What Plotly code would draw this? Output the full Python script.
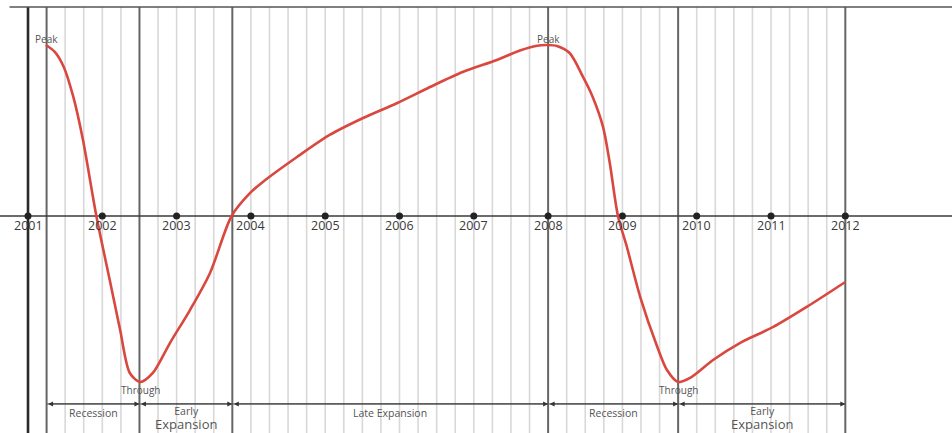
import plotly.graph_objects as go

# ---- data ----
years = [2001, 2002, 2003, 2004, 2005, 2006, 2007, 2008, 2009, 2010, 2011, 2012]
year_labels = [str(y) for y in years]

curve_x = [2001.24, 2001.36, 2001.48, 2001.61, 2001.74, 2001.92, 2002.10, 2002.24, 2002.37,
           2002.51, 2002.68, 2002.91, 2003.18, 2003.45, 2003.74, 2003.99,
           2004.16, 2004.62, 2005.06, 2005.51, 2005.97, 2006.41, 2006.85, 2007.31,
           2007.62, 2007.85, 2008.00, 2008.12, 2008.29, 2008.47, 2008.60, 2008.74,
           2008.83, 2008.94, 2009.06, 2009.24, 2009.47, 2009.60, 2009.75, 2009.91,
           2010.22, 2010.58, 2011.03, 2011.48, 2012.00]
curve_y = [100, 96.0, 87.3, 69.6, 44.4, 0, -37.4, -66.7, -91.8,
           -97.1, -91.8, -74.3, -55.0, -33.3, 0, 13.5,
           19.9, 34.5, 47.4, 57.3, 66.1, 75.4, 84.2, 91.2,
           96.8, 99.6, 100, 99.4, 95.3, 81.3, 69.6, 52.0,
           31.0, 0, -18.1, -47.4, -76.6, -90.1, -97.1, -94.7,
           -84.2, -74.3, -64.9, -53.2, -38.6]

turn_x = [2001.25, 2002.52, 2008.0, 2009.75]
turn_labels = ["Peak", "Through", "Peak", "Through"]

phase_bounds = [2001.25, 2002.5, 2003.75, 2008.0, 2009.75, 2012.0]
phase_line1 = ["Recession", "Early", "Late Expansion", "Recession", "Early"]
phase_line2 = ["", "Expansion", "", "", "Expansion"]

grid_start, grid_end, grid_step = 2001.0, 2012.0, 0.25
major_lines = [2001.0] + phase_bounds

# ---- figure ----
fig = go.Figure()

shapes = []
n = int(round((grid_end - grid_start) / grid_step))
for i in range(n + 1):
    xv = grid_start + i * grid_step
    if any(abs(xv - m) < 1e-6 for m in major_lines):
        continue
    shapes.append(dict(type="line", xref="x", yref="paper", x0=xv, x1=xv, y0=0, y1=0.984,
                       line=dict(color="#d8d8d8", width=1.6), layer="below"))
for m in major_lines:
    w = 2.6 if m == 2001.0 else 2
    c = "#2a2a2a" if m == 2001.0 else "#666666"
    shapes.append(dict(type="line", xref="x", yref="paper", x0=m, x1=m, y0=0, y1=0.984,
                       line=dict(color=c, width=w), layer="below"))
# top border line
shapes.append(dict(type="line", xref="paper", yref="paper", x0=0.01, x1=1, y0=0.984, y1=0.984,
                   line=dict(color="#555555", width=1.5), layer="below"))
# zero axis
shapes.append(dict(type="line", xref="paper", yref="y", x0=0, x1=1, y0=0, y1=0,
                   line=dict(color="#3a3a3a", width=1.6), layer="below"))
# phase arrow baseline
shapes.append(dict(type="line", xref="x", yref="y", x0=phase_bounds[0], x1=phase_bounds[-1],
                   y0=-109.9, y1=-109.9, line=dict(color="#555555", width=1), layer="below"))

fig.add_trace(go.Scatter(x=years, y=[0] * len(years), mode="markers",
                         marker=dict(color="#222222", size=7), hoverinfo="skip"))
fig.add_trace(go.Scatter(x=curve_x, y=curve_y, mode="lines",
                         line=dict(color="#d9473f", width=2.6, shape="spline", smoothing=0.8),
                         hoverinfo="skip"))

ann = []
for y, lab in zip(years, year_labels):
    ann.append(dict(x=y, y=-5.5, text=lab, showarrow=False, xref="x", yref="y",
                    font=dict(family="Open Sans", size=12.5, color="#3a3a3a")))
for tx, tl in zip(turn_x, turn_labels):
    yy = 103.5 if tl == "Peak" else -101.8
    ann.append(dict(x=tx, y=yy, text=tl, showarrow=False, xref="x", yref="y",
                    font=dict(family="Open Sans", size=10, color="#555555")))
for i in range(len(phase_bounds) - 1):
    a, b = phase_bounds[i], phase_bounds[i + 1]
    ann.append(dict(x=b, y=-109.9, ax=a, ay=-109.9, xref="x", yref="y", axref="x", ayref="y",
                    text="", showarrow=True, arrowhead=2, arrowside="end+start",
                    arrowsize=1, arrowwidth=1, arrowcolor="#333333", standoff=0, startstandoff=0))
    mid = (a + b) / 2
    if phase_line2[i]:
        txt = phase_line1[i] + "<br><span style='font-size:13px'>" + phase_line2[i] + "</span>"
        ann.append(dict(x=mid, y=-0.002, yref="paper", xref="x", yanchor="bottom", text=txt,
                        showarrow=False, borderpad=0,
                        font=dict(family="Open Sans", size=10.5, color="#555555")))
    else:
        ann.append(dict(x=mid, y=-115.0, text=phase_line1[i], showarrow=False, xref="x", yref="y",
                        borderpad=0, font=dict(family="Open Sans", size=10.5, color="#555555")))

fig.update_layout(
    width=952, height=433,
    margin=dict(l=0, r=0, t=0, b=0),
    paper_bgcolor="white", plot_bgcolor="white",
    showlegend=False,
    xaxis=dict(range=[2000.623, 2013.436], visible=False, fixedrange=True),
    yaxis=dict(range=[-126.9, 126.3], visible=False, fixedrange=True),
    shapes=shapes, annotations=ann,
)

fig.write_html("out.html", config={"displayModeBar": False},
               post_script="document.body.style.margin='0px';document.body.style.overflow='hidden';")
